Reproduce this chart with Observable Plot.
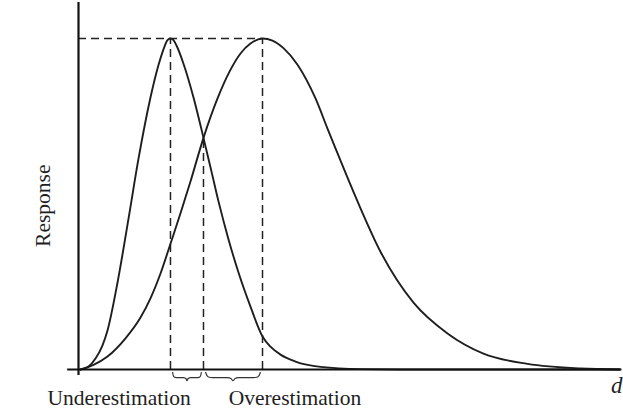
<!DOCTYPE html>
<html>
<head>
<meta charset="utf-8">
<script src="https://cdn.jsdelivr.net/npm/d3@7"></script>
<script src="https://cdn.jsdelivr.net/npm/@observablehq/plot@0.6"></script>
<style>
  html, body { margin: 0; padding: 0; background: #fff; }
  #chart svg { display: block; }
</style>
</head>
<body>
<div id="chart"></div>
<script>
// Narrow (early-peaking) response curve
const narrowD = [0.037, 0.185, 0.314, 0.443, 0.535, 0.720, 0.923, 1.107, 1.328, 1.476, 1.587, 1.642, 1.697, 1.753, 1.808, 1.937, 2.122, 2.306, 2.454, 2.583, 2.768, 2.952, 3.173, 3.395, 3.542, 3.727, 4.004, 4.465, 5.203, 5.94, 10.0];
const narrowResponse = [0, 0.009, 0.033, 0.073, 0.118, 0.263, 0.456, 0.637, 0.822, 0.920, 0.976, 0.995, 1.0, 0.995, 0.979, 0.924, 0.822, 0.700, 0.598, 0.508, 0.393, 0.293, 0.190, 0.100, 0.069, 0.045, 0.024, 0.008, 0.001, 0, 0];

// Wide (later-peaking) response curve
const wideD = [0.037, 0.277, 0.535, 0.867, 1.144, 1.328, 1.513, 1.697, 1.882, 2.066, 2.306, 2.565, 2.786, 2.989, 3.173, 3.395, 3.579, 3.782, 4.041, 4.373, 4.594, 4.742, 5.148, 5.572, 6.181, 6.808, 7.472, 8.284, 9.262, 10.0];
const wideResponse = [0, 0.014, 0.039, 0.094, 0.157, 0.215, 0.290, 0.380, 0.472, 0.568, 0.700, 0.819, 0.900, 0.955, 0.985, 1.0, 0.994, 0.971, 0.921, 0.819, 0.728, 0.668, 0.508, 0.356, 0.202, 0.109, 0.048, 0.017, 0.003, 0];

// Crossing point of the two curves
const crossingD = 2.306;
const crossingResponse = 0.700;

// Texts
const yLabel = "Response";
const xLabel = "d";
const leftLabel = "Underestimation";
const rightLabel = "Overestimation";

const narrow = narrowD.map((d, i) => ({d, r: narrowResponse[i]}));
const wide = wideD.map((d, i) => ({d, r: wideResponse[i]}));
const peakNarrow = d3.greatest(narrow, p => p.r);
const peakWide = d3.greatest(wide, p => p.r);

// Curly brace glyph template (unit shape)
const braceShape = [[0,0],[0.04,0.5],[0.12,0.62],[0.38,0.62],[0.46,0.72],[0.5,1],[0.54,0.72],[0.62,0.62],[0.88,0.62],[0.96,0.5],[1,0]];
function brace(x0, x1, yTop, yTip, id) {
  return braceShape.map(([t, s]) => ({x: x0 + t * (x1 - x0), y: yTop + s * (yTip - yTop), id}));
}
const pad = 0.04;
const braces = [
  ...brace(peakNarrow.d + pad, crossingD - pad, -0.009, -0.034, "under"),
  ...brace(crossingD + pad, peakWide.d - pad, -0.009, -0.034, "over")
];

const ink = "#1e1e1e";
const dash = "8,5";

const chart = Plot.plot({
  width: 623,
  height: 418,
  marginLeft: 78,
  marginRight: 3,
  marginTop: 2,
  marginBottom: 49,
  x: {domain: [0, 10], axis: null},
  y: {domain: [0, 1.109], axis: null},
  style: {fontFamily: "'Liberation Serif', 'DejaVu Serif', serif", fontSize: "21px", color: ink, background: "#fff"},
  marks: [
    // dashed guides
    Plot.ruleY([peakNarrow.r], {x1: 0, x2: peakWide.d, stroke: "#222", strokeWidth: 1.5, strokeDasharray: dash}),
    Plot.ruleX([peakNarrow], {x: "d", y1: 0, y2: "r", stroke: "#222", strokeWidth: 1.5, strokeDasharray: dash}),
    Plot.ruleX([peakWide], {x: "d", y1: 0, y2: "r", stroke: "#222", strokeWidth: 1.5, strokeDasharray: dash}),
    Plot.ruleX([crossingD], {y1: 0, y2: crossingResponse, stroke: "#222", strokeWidth: 1.5, strokeDasharray: dash}),
    // curves
    Plot.line(narrow, {x: "d", y: "r", curve: "monotone-x", stroke: ink, strokeWidth: 1.9}),
    Plot.line(wide, {x: "d", y: "r", curve: "monotone-x", stroke: ink, strokeWidth: 1.9}),
    // axes
    Plot.ruleY([0], {x1: -0.2, x2: 10, stroke: "#111", strokeWidth: 2.2}),
    Plot.ruleX([0], {y1: -0.018, y2: 1.109, stroke: "#111", strokeWidth: 2.2}),
    // braces
    Plot.line(braces, {x: "x", y: "y", z: "id", curve: "catmull-rom", stroke: "#333", strokeWidth: 1.2}),
    // labels
    Plot.text([leftLabel], {x: -0.572, y: -0.0855, text: d => d, textAnchor: "start", lineAnchor: "middle", fontSize: 21.5, fill: ink}),
    Plot.text([rightLabel], {x: 2.77, y: -0.0855, text: d => d, textAnchor: "start", lineAnchor: "middle", fontSize: 21.5, fill: ink}),
    Plot.text([xLabel], {x: 9.93, y: -0.048, text: d => d, textAnchor: "middle", lineAnchor: "middle", fontSize: 23, fontStyle: "italic", fill: ink}),
    Plot.text([yLabel], {x: -0.66, y: 0.495, text: d => d, rotate: -90, textAnchor: "middle", lineAnchor: "middle", fontSize: 21.5, fill: ink})
  ]
});
document.getElementById("chart").appendChild(chart);
</script>
</body>
</html>
